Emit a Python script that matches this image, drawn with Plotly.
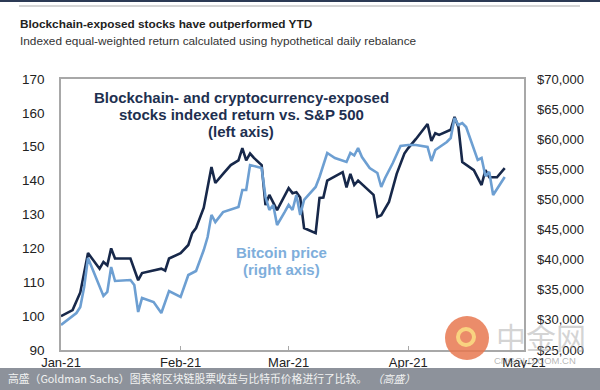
import plotly.graph_objects as go

# Blockchain/crypto-exposed stocks index (left axis)
stock_dates = ["2021-01-01","2021-01-04","2021-01-06","2021-01-08","2021-01-11","2021-01-12","2021-01-13",
               "2021-01-14","2021-01-15","2021-01-19","2021-01-21","2021-01-22","2021-01-27","2021-01-28",
               "2021-01-29","2021-02-01","2021-02-03","2021-02-04","2021-02-05","2021-02-07","2021-02-09",
               "2021-02-10","2021-02-12","2021-02-14","2021-02-16","2021-02-17","2021-02-18","2021-02-19",
               "2021-02-20","2021-02-22","2021-02-23","2021-02-24","2021-02-26","2021-03-01","2021-03-02",
               "2021-03-03","2021-03-04","2021-03-05","2021-03-08","2021-03-09","2021-03-10","2021-03-11",
               "2021-03-15","2021-03-16","2021-03-17","2021-03-18","2021-03-19","2021-03-21","2021-03-23",
               "2021-03-24","2021-03-25","2021-03-27","2021-03-29","2021-03-31","2021-04-01","2021-04-03",
               "2021-04-06","2021-04-07","2021-04-08","2021-04-09","2021-04-12","2021-04-13","2021-04-14",
               "2021-04-15","2021-04-18","2021-04-20","2021-04-21","2021-04-22","2021-04-24","2021-04-26"]
stock_values = [100, 101.8, 107, 118.6, 114, 116, 115,
                120, 117, 117, 110.6, 112.7, 114, 113.4,
                117, 118.6, 121, 124.5, 126, 132, 144,
                139.3, 142, 144.6, 146, 149.6, 146, 148,
                146.7, 144.6, 132.8, 135.8, 131.3, 137.8, 136.3,
                136.6, 135, 126, 124.5, 134.9, 135, 140,
                142.5, 138, 142, 138.7, 140, 138, 135.8,
                129.3, 129.8, 133.7, 142, 148, 149.6, 152.3,
                156.7, 151.7, 154, 153.5, 155, 158.8, 155.8,
                145.5, 143.1, 138.7, 143.1, 141, 141, 143.7]

# Bitcoin price (right axis)
btc_dates = ["2021-01-01","2021-01-05","2021-01-06","2021-01-07","2021-01-08","2021-01-12","2021-01-13",
             "2021-01-14","2021-01-15","2021-01-19","2021-01-20","2021-01-21","2021-01-22","2021-01-25",
             "2021-01-27","2021-01-29","2021-02-01","2021-02-03","2021-02-05","2021-02-07","2021-02-08",
             "2021-02-09","2021-02-10","2021-02-12","2021-02-16","2021-02-17","2021-02-18","2021-02-19",
             "2021-02-21","2021-02-22","2021-02-23","2021-02-24","2021-02-25","2021-02-26","2021-02-28",
             "2021-03-01","2021-03-02","2021-03-03","2021-03-04","2021-03-05","2021-03-08","2021-03-09",
             "2021-03-11","2021-03-13","2021-03-16","2021-03-17","2021-03-18","2021-03-19","2021-03-20",
             "2021-03-22","2021-03-24","2021-03-25","2021-03-26","2021-03-28","2021-03-30","2021-04-01",
             "2021-04-03","2021-04-06","2021-04-07","2021-04-08","2021-04-11","2021-04-12","2021-04-13",
             "2021-04-14","2021-04-15","2021-04-16","2021-04-19","2021-04-20","2021-04-21","2021-04-22",
             "2021-04-23","2021-04-26"]
btc_values = [29150, 31140, 32140, 35460, 40280, 33970, 34630,
              38780, 36460, 36620, 35790, 31310, 33630, 32970,
              31140, 34800, 33800, 37450, 38120, 41600, 43760,
              47420, 46250, 47900, 48750, 51570, 51570, 55720,
              55390, 55220, 50400, 48250, 49080, 45760, 47920,
              49080, 48250, 50740, 47420, 49910, 52070, 53730,
              57710, 56880, 56220, 57710, 57300, 58540, 57050,
              55220, 54390, 52070, 53560, 56050, 58870, 59040,
              59040, 58710, 56380, 58210, 59540, 60200, 63520,
              62360, 62690, 62030, 56550, 56880, 53890, 54560,
              50740, 53730]

left_ticks = [90, 100, 110, 120, 130, 140, 150, 160, 170]
right_ticks = [25000, 30000, 35000, 40000, 45000, 50000, 55000, 60000, 65000, 70000]
right_tick_labels = ["$25,000", "$30,000", "$35,000", "$40,000", "$45,000", "$50,000",
                     "$55,000", "$60,000", "$65,000", "$70,000"]
month_ticks = ["2021-01-01", "2021-02-01", "2021-03-01", "2021-04-01", "2021-05-01"]
month_labels = ["Jan-21", "Feb-21", "Mar-21", "Apr-21", "May-21"]

stock_label_lines = ["Blockchain- and cryptocurrency-exposed", "stocks indexed return vs. S&P 500", "(left axis)"]
btc_label_lines = ["Bitcoin price", "(right axis)"]

DARK = "#17284a"
LIGHT = "#6d9fd2"
FONT = "Liberation Sans, Arial, sans-serif"

L, T, W, H = 61, 79, 463, 271


def px(x):
    return (x - L) / W


def py(y):
    return (T + H - y) / H


fig = go.Figure()
fig.add_trace(go.Scatter(x=btc_dates, y=btc_values, mode="lines", yaxis="y2",
                         line=dict(color=LIGHT, width=2.6), showlegend=False))
fig.add_trace(go.Scatter(x=stock_dates, y=stock_values, mode="lines",
                         line=dict(color=DARK, width=2.6), showlegend=False))

fig.update_layout(
    width=600, height=390,
    margin=dict(l=L, r=600 - L - W, t=T, b=390 - T - H),
    paper_bgcolor="white", plot_bgcolor="white",
    font=dict(family=FONT, size=13, color="#222222"),
    xaxis=dict(type="date", range=["2021-01-01", "2021-05-01"], tickvals=month_ticks,
               ticktext=month_labels, showgrid=False, showline=True, linecolor="#a8a8a8",
               linewidth=1.5, mirror=True, ticks="inside", ticklen=4, tickcolor="#a8a8a8",
               tickfont=dict(size=13, color="#222222"), zeroline=False),
    yaxis=dict(range=[90, 170], tickvals=left_ticks, showgrid=False, showline=True,
               linecolor="#a8a8a8", linewidth=1.5, mirror=True, ticks="", zeroline=False,
               tickfont=dict(size=13.5, color="#222222"), ticklabelstandoff=12),
    yaxis2=dict(range=[25000, 70000], overlaying="y", side="right", tickvals=right_ticks,
                ticktext=right_tick_labels, showgrid=False, showline=False, ticks="",
                zeroline=False, tickfont=dict(size=13, color="#222222"), ticklabelstandoff=12),
)

# header lines
fig.add_shape(type="rect", xref="paper", yref="paper", x0=-0.2, x1=1.2,
              y0=py(2), y1=py(-2), fillcolor="#2c3a55", line_width=0, layer="above")
fig.add_shape(type="line", xref="paper", yref="paper", x0=px(19), x1=px(580),
              y0=py(6), y1=py(6), line=dict(color="#d5d5d5", width=2))

fig.add_annotation(xref="paper", yref="paper", x=px(18), y=py(24), xanchor="left",
                   yanchor="middle", showarrow=False,
                   text="<b>Blockchain-exposed stocks have outperformed YTD</b>",
                   font=dict(family=FONT, size=11.8, color="#222222"))
fig.add_annotation(xref="paper", yref="paper", x=px(18), y=py(41), xanchor="left",
                   yanchor="middle", showarrow=False,
                   text="Indexed equal-weighted return calculated using hypothetical daily rebalance",
                   font=dict(family=FONT, size=11.8, color="#333333"))

for i, line in enumerate(stock_label_lines):
    fig.add_annotation(xref="paper", yref="paper", x=px(241), y=py(97 + 17 * i), xanchor="center",
                       yanchor="middle", showarrow=False, text="<b>" + line + "</b>",
                       font=dict(family=FONT, size=15, color="#1e3050"))
for i, line in enumerate(btc_label_lines):
    fig.add_annotation(xref="paper", yref="paper", x=px(281), y=py(252 + 17 * i), xanchor="center",
                       yanchor="middle", showarrow=False, text="<b>" + line + "</b>",
                       font=dict(family=FONT, size=15, color="#7eaedb"))

# watermark
fig.add_shape(type="circle", xref="paper", yref="paper",
              x0=px(445), x1=px(489), y0=py(360), y1=py(316),
              fillcolor="rgba(232,120,80,0.85)", line_width=0, layer="above")
fig.add_shape(type="circle", xref="paper", yref="paper",
              x0=px(458), x1=px(474), y0=py(345), y1=py(329),
              fillcolor="rgba(0,0,0,0)", line=dict(color="rgba(250,215,130,0.95)", width=4),
              layer="above")
fig.add_annotation(xref="paper", yref="paper", x=px(494), y=py(336), xanchor="left",
                   yanchor="middle", showarrow=False,
                   text="中金网", font=dict(family="Noto Sans CJK SC", size=30,
                                         color="rgba(170,170,170,0.5)"))
fig.add_annotation(xref="paper", yref="paper", x=px(492), y=py(361), xanchor="left",
                   yanchor="middle", showarrow=False,
                   text="CNGOLD.COM.CN", font=dict(family=FONT, size=9.5, color="rgba(150,150,150,0.7)"))

# caption bar
fig.add_shape(type="rect", xref="paper", yref="paper", x0=-0.2, x1=1.2,
              y0=py(392), y1=py(368), fillcolor="#8d929b", line_width=0, layer="above")
fig.add_annotation(xref="paper", yref="paper", x=px(6), y=py(378), xanchor="left",
                   yanchor="middle", showarrow=False,
                   text="高盛（Goldman Sachs）图表将区块链股票收益与比特币价格进行了比较。  <i>（高盛）</i>",
                   font=dict(family="Noto Sans CJK SC", size=10.8, color="#f2f2f2"))

fig.write_html("out.html", config={"displayModeBar": False},
               post_script="document.body.style.margin='0';document.body.style.overflow='hidden';")
